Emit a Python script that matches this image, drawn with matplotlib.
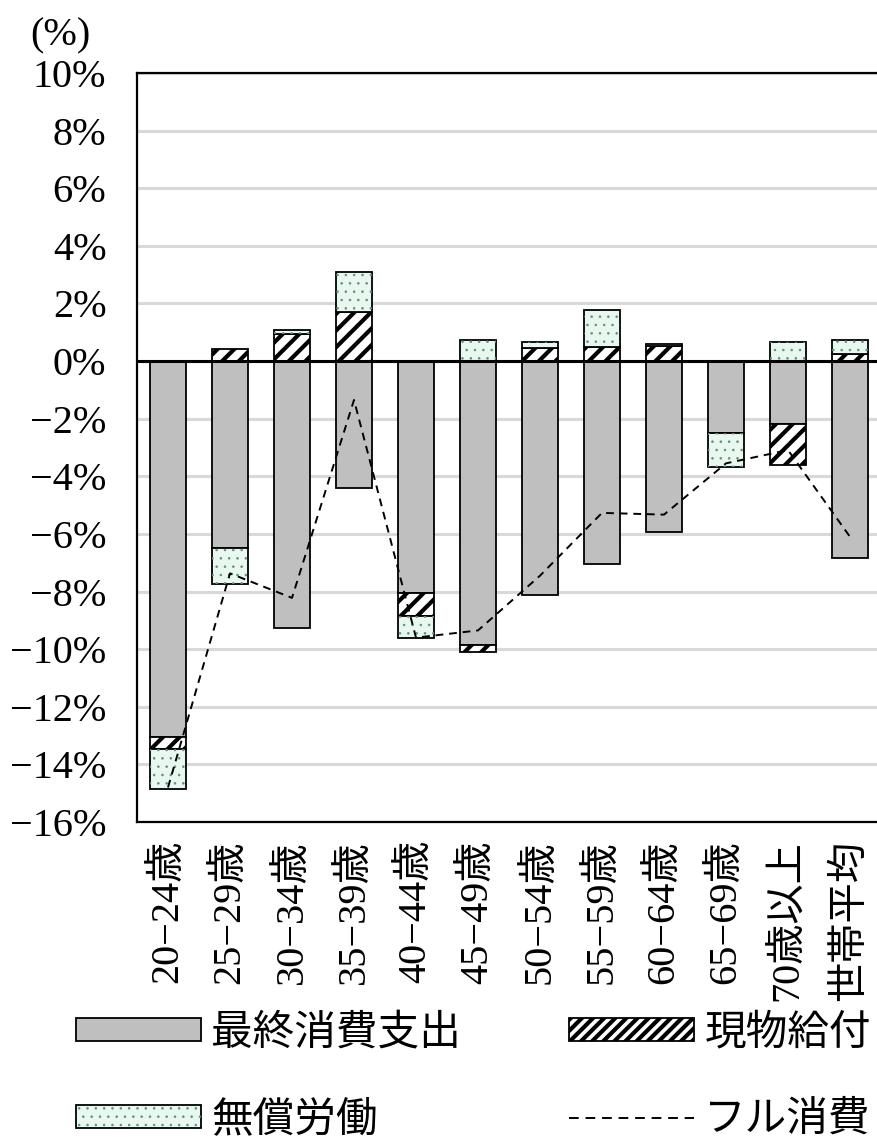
import matplotlib
matplotlib.use('Agg')
import numpy as np
import matplotlib.pyplot as plt
from matplotlib.patches import Patch
from matplotlib.lines import Line2D

# 年齢階級別の消費の内訳（%）
ages = ['20−24歳', '25−29歳', '30−34歳', '35−39歳', '40−44歳', '45−49歳',
        '50−54歳', '55−59歳', '60−64歳', '65−69歳', '70歳以上', '世帯平均']
final_cons = [-13.05, -6.50, -9.27, -4.42, -8.04, -9.84, -8.13, -7.03, -5.93, -2.48, -2.19, -6.85]
in_kind = [-0.41, 0.42, 0.93, 1.71, -0.81, -0.25, 0.44, 0.50, 0.52, 0.00, -1.42, 0.23]
unpaid = [-1.38, -1.24, 0.15, 1.37, -0.78, 0.73, 0.21, 1.29, 0.09, -1.19, 0.65, 0.50]
full_cons = [-14.8, -7.37, -8.22, -1.35, -9.6, -9.35, -7.45, -5.27, -5.33, -3.55, -3.09, -6.1]

yticks = list(range(-16, 11, 2))
ytick_labels = [f'{v}%'.replace('-', '−') for v in yticks]

fonts = ['Liberation Serif', 'Noto Sans CJK JP', 'DejaVu Sans']
plt.rcParams['font.family'] = fonts
plt.rcParams['hatch.linewidth'] = 3.0

gray = '#bfbfbf'
mint = '#e8f8ef'
dotc = '#5f8f80'
DOT_LW = 0.6

fig = plt.figure(figsize=(8.78, 11.44), dpi=100)
ax = fig.add_axes([137/878, 1 - 822/1144, (881 - 137)/878, (822 - 73)/1144])

x = np.arange(len(ages))
w = 0.58

# Excel 風の積み上げ: 正と負を別々に積む
pos = np.zeros(len(ages))
neg = np.zeros(len(ages))

def stack(vals):
    vals = np.array(vals, dtype=float)
    bottom = np.where(vals >= 0, pos, neg)
    pos[:] = pos + np.where(vals >= 0, vals, 0)
    neg[:] = neg + np.where(vals < 0, vals, 0)
    return vals, bottom

v, b = stack(final_cons)
ax.bar(x, v, w, bottom=b, color=gray, edgecolor='black', linewidth=1.3, zorder=2)

v, b = stack(in_kind)
ax.bar(x, v, w, bottom=b, color='white', edgecolor='black', linewidth=1.3,
       hatch='//', zorder=2)
hatch_handle = Patch(facecolor='white', edgecolor='black', linewidth=1.3, hatch='///')

v, b = stack(unpaid)
ax.bar(x, v, w, bottom=b, color=mint, edgecolor='black', linewidth=1.3, zorder=2)
with plt.rc_context({'hatch.linewidth': DOT_LW}):
    ax.bar(x, v, w, bottom=b, color='none', edgecolor=dotc, linewidth=0,
           hatch='..', zorder=2.1)
    dot_handle = Patch(facecolor='none', edgecolor=dotc, linewidth=0, hatch='..')

ax.plot(x, full_cons, color='black', linewidth=1.4, dashes=(4, 3), zorder=5)
ax.axhline(0, color='black', linewidth=2.2, zorder=4)

ax.set_xlim(-0.5, 11.5)
ax.set_ylim(-16, 10)
ax.set_yticks(yticks)
ax.set_yticklabels(ytick_labels, fontsize=29)
ax.set_xticks(x)
ax.set_xticklabels(ages, rotation=90, fontsize=29, va='top', ha='center')
ax.tick_params(axis='y', length=0, pad=22)
ax.tick_params(axis='x', length=0, pad=13)
ax.yaxis.grid(True, color='#d9d9d9', linewidth=2.2)
ax.set_axisbelow(True)
for s in ax.spines.values():
    s.set_linewidth(1.6)
    s.set_color('black')

fig.text(60/878, 1 - 36/1144, '(%)', fontsize=29, ha='center', va='center')

handles = [
    Patch(facecolor=gray, edgecolor='black', linewidth=1.3),
    (Patch(facecolor=mint, edgecolor='black', linewidth=1.3), dot_handle),
    hatch_handle,
    Line2D([], [], color='black', linewidth=1.4, dashes=(5, 3.5)),
]
labels = ['最終消費支出', '無償労働', '現物給付', 'フル消費']
# 凡例は白地で、はみ出した目盛ラベルの下端を隠す
leg = fig.legend(handles, labels, ncol=2, loc='upper left',
                 bbox_to_anchor=(63/878, 1 - 1002/1144), frameon=True,
                 facecolor='white', edgecolor='none', framealpha=1,
                 fancybox=False, prop={'family': fonts, 'size': 30},
                 handlelength=3.0, handleheight=0.45, handletextpad=0.25,
                 columnspacing=2.6, labelspacing=1.15, borderaxespad=0,
                 borderpad=0.3)
for p in leg.findobj(Patch):
    if p.get_hatch() == '..':
        if hasattr(p, 'set_hatch_linewidth'):
            p.set_hatch_linewidth(DOT_LW)
        else:
            p._hatch_linewidth = DOT_LW

fig.savefig('out.png', dpi=100)
